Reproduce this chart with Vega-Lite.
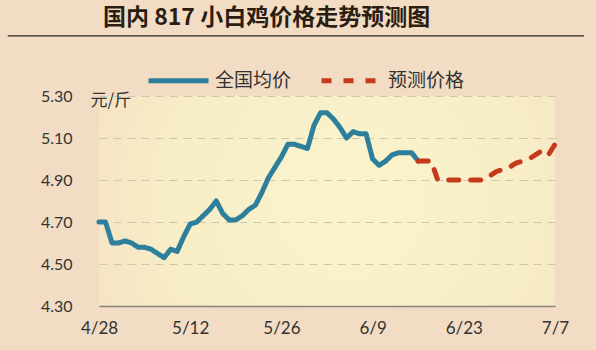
{
  "$schema": "https://vega.github.io/schema/vega-lite/v6.json",
  "width": 456,
  "height": 210,
  "autosize": {"type": "none"},
  "padding": {"left": 99, "top": 96, "right": 41, "bottom": 44},
  "background": "#f2dcc3",
  "title": {
    "text": "国内 817 小白鸡价格走势预测图",
    "font": "Noto Sans CJK SC",
    "fontSize": 23,
    "fontWeight": "bold",
    "color": "#2b1d12",
    "anchor": "start",
    "frame": "group",
    "dx": 4,
    "dy": -1
  },
  "datasets": {
    "prices": [
      {"date": "2024-04-28T00:00:00", "price": 4.70, "series": "全国均价"},
      {"date": "2024-04-29T00:00:00", "price": 4.70, "series": "全国均价"},
      {"date": "2024-04-30T00:00:00", "price": 4.60, "series": "全国均价"},
      {"date": "2024-05-01T00:00:00", "price": 4.60, "series": "全国均价"},
      {"date": "2024-05-02T00:00:00", "price": 4.61, "series": "全国均价"},
      {"date": "2024-05-03T00:00:00", "price": 4.60, "series": "全国均价"},
      {"date": "2024-05-04T00:00:00", "price": 4.58, "series": "全国均价"},
      {"date": "2024-05-05T00:00:00", "price": 4.58, "series": "全国均价"},
      {"date": "2024-05-06T00:00:00", "price": 4.57, "series": "全国均价"},
      {"date": "2024-05-07T00:00:00", "price": 4.55, "series": "全国均价"},
      {"date": "2024-05-08T00:00:00", "price": 4.53, "series": "全国均价"},
      {"date": "2024-05-09T00:00:00", "price": 4.57, "series": "全国均价"},
      {"date": "2024-05-10T00:00:00", "price": 4.56, "series": "全国均价"},
      {"date": "2024-05-11T00:00:00", "price": 4.63, "series": "全国均价"},
      {"date": "2024-05-12T00:00:00", "price": 4.69, "series": "全国均价"},
      {"date": "2024-05-13T00:00:00", "price": 4.70, "series": "全国均价"},
      {"date": "2024-05-14T00:00:00", "price": 4.73, "series": "全国均价"},
      {"date": "2024-05-15T00:00:00", "price": 4.76, "series": "全国均价"},
      {"date": "2024-05-16T00:00:00", "price": 4.80, "series": "全国均价"},
      {"date": "2024-05-17T00:00:00", "price": 4.74, "series": "全国均价"},
      {"date": "2024-05-18T00:00:00", "price": 4.71, "series": "全国均价"},
      {"date": "2024-05-19T00:00:00", "price": 4.71, "series": "全国均价"},
      {"date": "2024-05-20T00:00:00", "price": 4.73, "series": "全国均价"},
      {"date": "2024-05-21T00:00:00", "price": 4.76, "series": "全国均价"},
      {"date": "2024-05-22T00:00:00", "price": 4.78, "series": "全国均价"},
      {"date": "2024-05-23T00:00:00", "price": 4.84, "series": "全国均价"},
      {"date": "2024-05-24T00:00:00", "price": 4.91, "series": "全国均价"},
      {"date": "2024-05-25T00:00:00", "price": 4.96, "series": "全国均价"},
      {"date": "2024-05-26T00:00:00", "price": 5.01, "series": "全国均价"},
      {"date": "2024-05-27T00:00:00", "price": 5.07, "series": "全国均价"},
      {"date": "2024-05-28T00:00:00", "price": 5.07, "series": "全国均价"},
      {"date": "2024-05-29T00:00:00", "price": 5.06, "series": "全国均价"},
      {"date": "2024-05-30T00:00:00", "price": 5.05, "series": "全国均价"},
      {"date": "2024-05-31T00:00:00", "price": 5.16, "series": "全国均价"},
      {"date": "2024-06-01T00:00:00", "price": 5.22, "series": "全国均价"},
      {"date": "2024-06-02T00:00:00", "price": 5.22, "series": "全国均价"},
      {"date": "2024-06-03T00:00:00", "price": 5.19, "series": "全国均价"},
      {"date": "2024-06-04T00:00:00", "price": 5.15, "series": "全国均价"},
      {"date": "2024-06-05T00:00:00", "price": 5.10, "series": "全国均价"},
      {"date": "2024-06-06T00:00:00", "price": 5.13, "series": "全国均价"},
      {"date": "2024-06-07T00:00:00", "price": 5.12, "series": "全国均价"},
      {"date": "2024-06-08T00:00:00", "price": 5.12, "series": "全国均价"},
      {"date": "2024-06-09T00:00:00", "price": 5.00, "series": "全国均价"},
      {"date": "2024-06-10T00:00:00", "price": 4.97, "series": "全国均价"},
      {"date": "2024-06-11T00:00:00", "price": 4.99, "series": "全国均价"},
      {"date": "2024-06-12T00:00:00", "price": 5.02, "series": "全国均价"},
      {"date": "2024-06-13T00:00:00", "price": 5.03, "series": "全国均价"},
      {"date": "2024-06-14T00:00:00", "price": 5.03, "series": "全国均价"},
      {"date": "2024-06-15T00:00:00", "price": 5.03, "series": "全国均价"},
      {"date": "2024-06-16T00:00:00", "price": 4.99, "series": "全国均价"},
      {"date": "2024-06-16T00:00:00", "price": 4.99, "series": "预测价格"},
      {"date": "2024-06-17T00:00:00", "price": 4.99, "series": "预测价格"},
      {"date": "2024-06-18T00:00:00", "price": 4.99, "series": "预测价格"},
      {"date": "2024-06-19T00:00:00", "price": 4.90, "series": "预测价格"},
      {"date": "2024-06-20T00:00:00", "price": 4.90, "series": "预测价格"},
      {"date": "2024-06-21T00:00:00", "price": 4.90, "series": "预测价格"},
      {"date": "2024-06-22T00:00:00", "price": 4.90, "series": "预测价格"},
      {"date": "2024-06-23T00:00:00", "price": 4.90, "series": "预测价格"},
      {"date": "2024-06-24T00:00:00", "price": 4.90, "series": "预测价格"},
      {"date": "2024-06-25T00:00:00", "price": 4.90, "series": "预测价格"},
      {"date": "2024-06-26T00:00:00", "price": 4.90, "series": "预测价格"},
      {"date": "2024-06-27T00:00:00", "price": 4.92, "series": "预测价格"},
      {"date": "2024-06-28T00:00:00", "price": 4.94, "series": "预测价格"},
      {"date": "2024-06-29T00:00:00", "price": 4.95, "series": "预测价格"},
      {"date": "2024-06-30T00:00:00", "price": 4.96, "series": "预测价格"},
      {"date": "2024-07-01T00:00:00", "price": 4.98, "series": "预测价格"},
      {"date": "2024-07-02T00:00:00", "price": 4.99, "series": "预测价格"},
      {"date": "2024-07-03T00:00:00", "price": 5.00, "series": "预测价格"},
      {"date": "2024-07-04T00:00:00", "price": 5.02, "series": "预测价格"},
      {"date": "2024-07-05T00:00:00", "price": 5.04, "series": "预测价格"},
      {"date": "2024-07-06T00:00:00", "price": 5.02, "series": "预测价格"},
      {"date": "2024-07-07T00:00:00", "price": 5.07, "series": "预测价格"}
    ]
  },
  "layer": [
    {
      "data": {"values": [{}]},
      "mark": {"type": "rule", "color": "#2a2420", "strokeWidth": 1.3, "clip": false},
      "encoding": {
        "x": {"datum": {"year": 2024, "month": 4, "date": 14}, "type": "temporal"},
        "x2": {"datum": {"year": 2024, "month": 7, "date": 11, "hours": 11}},
        "y": {"datum": 5.586, "type": "quantitative"}
      }
    },
    {
      "data": {"name": "prices"},
      "mark": {"type": "line", "strokeWidth": 5, "strokeCap": "round", "strokeJoin": "round"},
      "encoding": {
        "x": {
          "field": "date",
          "type": "temporal",
          "scale": {"domain": [{"year": 2024, "month": 4, "date": 28}, {"year": 2024, "month": 7, "date": 7}]},
          "axis": {
            "title": null,
            "values": [
              {"year": 2024, "month": 4, "date": 28},
              {"year": 2024, "month": 5, "date": 12},
              {"year": 2024, "month": 5, "date": 26},
              {"year": 2024, "month": 6, "date": 9},
              {"year": 2024, "month": 6, "date": 23},
              {"year": 2024, "month": 7, "date": 7}
            ],
            "format": "%-m/%-d",
            "grid": false,
            "ticks": false,
            "domainColor": "#8a8480",
            "domainWidth": 1.5,
            "labelFont": "Lato",
            "labelFontSize": 17,
            "labelColor": "#333333",
            "labelPadding": 14,
            "labelFlush": false
          }
        },
        "y": {
          "field": "price",
          "type": "quantitative",
          "scale": {"domain": [4.3, 5.3], "nice": false, "zero": false},
          "axis": {
            "title": "元/斤",
            "titleAngle": 0,
            "titleX": -9,
            "titleY": 4,
            "titleAlign": "left",
            "titleBaseline": "middle",
            "titleFont": "Noto Sans CJK SC",
            "titleFontSize": 17,
            "titleFontWeight": "normal",
            "titleColor": "#333333",
            "values": [4.3, 4.5, 4.7, 4.9, 5.1, 5.3],
            "format": ".2f",
            "domain": false,
            "ticks": false,
            "grid": true,
            "gridDash": [8, 6],
            "gridColor": "#cfc6b2",
            "gridWidth": 1.2,
            "labelFont": "Lato",
            "labelFontSize": 16,
            "labelColor": "#333333",
            "labelPadding": 27
          }
        },
        "color": {
          "field": "series",
          "type": "nominal",
          "scale": {"domain": ["全国均价", "预测价格"], "range": ["#2d7f9c", "#c63a1c"]},
          "legend": {
            "title": null,
            "orient": "none",
            "direction": "horizontal",
            "legendX": 47,
            "legendY": -48,
            "symbolType": "stroke",
            "symbolSize": 3600,
            "symbolStrokeWidth": 5,
            "labelFont": "Noto Sans CJK SC",
            "labelFontSize": 19,
            "labelColor": "#333333",
            "labelOffset": 4,
            "columnPadding": 19
          }
        },
        "strokeDash": {
          "field": "series",
          "type": "nominal",
          "scale": {"domain": ["全国均价", "预测价格"], "range": [[1, 0], [10, 12]]},
          "legend": null
        }
      }
    }
  ],
  "config": {
    "view": {
      "stroke": null,
      "fill": {
        "gradient": "radial",
        "x1": 0.55, "y1": 0.5, "r1": 0,
        "x2": 0.55, "y2": 0.5, "r2": 0.75,
        "stops": [
          {"offset": 0, "color": "#faf4cc"},
          {"offset": 0.55, "color": "#f7edc6"},
          {"offset": 1, "color": "#f2dcc3"}
        ]
      }
    }
  }
}
